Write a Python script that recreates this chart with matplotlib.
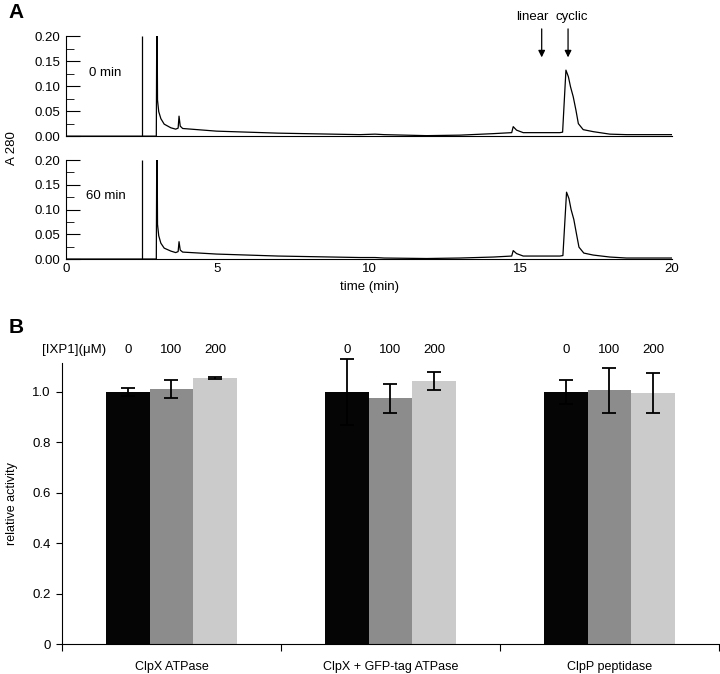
import numpy as np
import matplotlib
matplotlib.use("Agg")
import matplotlib.pyplot as plt
from matplotlib.ticker import MultipleLocator

plt.rcParams['font.family'] = ['Liberation Sans', 'DejaVu Sans']

# panel A: HPLC traces (time in min, A280)
inject_time = 2.5
t_0min = [0.0, 2.98, 3.0, 3.02, 3.06, 3.13, 3.24, 3.46, 3.62, 3.7, 3.73, 3.77, 3.85,
          4.97, 7.0, 9.7, 10.2, 10.5, 11.9, 13.0, 14.1, 14.71, 14.76, 14.87, 15.09,
          16.3, 16.39, 16.5, 16.58, 16.65, 16.74, 16.83, 16.91, 17.07, 17.4, 17.95,
          18.5, 20.0]
a_0min = [0.0, 0.0, 0.3, 0.072, 0.049, 0.035, 0.024, 0.0167, 0.014, 0.016, 0.04, 0.02, 0.0153,
          0.010, 0.006, 0.003, 0.004, 0.003, 0.001, 0.002, 0.005, 0.007, 0.019, 0.012, 0.007,
          0.007, 0.008, 0.132, 0.119, 0.099, 0.079, 0.052, 0.025, 0.013, 0.009, 0.004,
          0.003, 0.003]
t_60min = [0.0, 2.98, 3.0, 3.02, 3.06, 3.13, 3.24, 3.46, 3.62, 3.7, 3.73, 3.77, 3.85,
           4.97, 7.0, 9.7, 10.2, 10.5, 11.9, 13.0, 14.1, 14.71, 14.76, 14.87, 15.09,
           16.3, 16.4, 16.52, 16.6, 16.67, 16.76, 16.85, 16.93, 17.09, 17.4, 17.95,
           18.5, 20.0]
a_60min = [0.0, 0.0, 0.3, 0.07, 0.047, 0.032, 0.022, 0.016, 0.013, 0.015, 0.035, 0.018, 0.014,
           0.010, 0.006, 0.003, 0.003, 0.002, 0.001, 0.002, 0.004, 0.006, 0.017, 0.011, 0.006,
           0.006, 0.007, 0.135, 0.122, 0.1, 0.08, 0.05, 0.024, 0.012, 0.008, 0.004,
           0.002, 0.002]
arrow_labels = ['linear', 'cyclic']
arrow_times = [15.7, 16.57]
text_times = [15.4, 16.7]

# panel B: relative activity
groups = ['ClpX ATPase', 'ClpX + GFP-tag ATPase', 'ClpP peptidase']
conc = ['0', '100', '200']
vals = [[1.0, 1.012, 1.056],
        [1.0, 0.975, 1.042],
        [1.0, 1.007, 0.995]]
errs = [[0.017, 0.035, 0.004],
        [0.13, 0.058, 0.036],
        [0.046, 0.09, 0.079]]
bar_colors = ['#050505', '#8c8c8c', '#cbcbcb']

fig = plt.figure(figsize=(7.2, 6.74), dpi=100)

def trace_axes(rect, t, a, label, show_x):
    ax = fig.add_axes(rect)
    ax.plot(t, a, color='black', lw=0.9)
    ax.vlines(inject_time, 0, 0.2, color='black', lw=0.9)
    ax.set_xlim(0, 20)
    ax.set_ylim(0, 0.2)
    ax.spines['top'].set_visible(False)
    ax.spines['right'].set_visible(False)
    ax.yaxis.set_minor_locator(MultipleLocator(0.025))
    ax.set_yticks([0, 0.05, 0.1, 0.15, 0.2])
    ax.set_yticklabels(['0.00', '0.05', '0.10', '0.15', '0.20'])
    ax.tick_params(axis='y', which='major', direction='in', length=10, labelsize=9.5, pad=4)
    ax.tick_params(axis='y', which='minor', direction='in', length=6)
    ax.set_xticks([0, 5, 10, 15, 20])
    if show_x:
        ax.tick_params(axis='x', length=0, labelsize=9.5, pad=3)
        ax.set_xlabel('time (min)', fontsize=9.5, labelpad=4)
    else:
        ax.tick_params(axis='x', length=0, labelbottom=False)
    ax.text(1.3, 0.127, label, ha='center', va='center', fontsize=9.5)
    return ax

axA1 = trace_axes([0.0917, 0.798, 0.8416, 0.1484], t_0min, a_0min, '0 min', False)
axA2 = trace_axes([0.0917, 0.6157, 0.8416, 0.1469], t_60min, a_60min, '60 min', True)

for lab, at, tt in zip(arrow_labels, arrow_times, text_times):
    axA1.annotate('', xy=(at, 0.152), xytext=(at, 0.22),
                  arrowprops=dict(arrowstyle='-|>', color='black', lw=0.9,
                                  mutation_scale=10), annotation_clip=False)
    axA1.text(tt, 0.238, lab, ha='center', va='center', fontsize=9.5, clip_on=False)

fig.text(0.017, 0.78, 'A 280', rotation=90, ha='center', va='center', fontsize=9.5)
fig.text(0.012, 0.982, 'A', fontsize=15, fontweight='bold', ha='left', va='center')
fig.text(0.012, 0.514, 'B', fontsize=15, fontweight='bold', ha='left', va='center')

# panel B
axB = fig.add_axes([0.0861, 0.0445, 0.9125, 0.4169])
w = 0.2
for i in range(3):
    x = np.arange(len(groups)) + (i - 1) * w
    v = [row[i] for row in vals]
    e = [row[i] for row in errs]
    axB.bar(x, v, width=w, color=bar_colors[i], edgecolor='none')
    axB.errorbar(x, v, yerr=e, fmt='none', ecolor='black', elinewidth=1.3,
                 capsize=5, capthick=1.3, clip_on=False)
    for xi in x:
        axB.text(xi, 1.167, conc[i], ha='center', va='center', fontsize=9.5, clip_on=False)
axB.text(-0.3, 1.167, '[IXP1](\u03bcM)', ha='right', va='center', fontsize=9.5, clip_on=False)

axB.set_xlim(-0.5, 2.5)
axB.set_ylim(0, 1.115)
axB.spines['top'].set_visible(False)
axB.spines['right'].set_visible(False)
axB.set_yticks([0, 0.2, 0.4, 0.6, 0.8, 1.0])
axB.set_yticklabels(['0', '0.2', '0.4', '0.6', '0.8', '1.0'])
axB.tick_params(axis='y', direction='out', length=4, labelsize=9.5, pad=4)
axB.set_xticks([-0.5, 0.5, 1.5, 2.5])
axB.set_xticklabels([])
axB.tick_params(axis='x', which='major', direction='out', length=5)
axB.set_xticks([0, 1, 2], minor=True)
axB.set_xticklabels(groups, minor=True)
axB.tick_params(axis='x', which='minor', length=0, labelsize=9, pad=12.5)
axB.set_ylabel('relative activity', fontsize=9, labelpad=10)

fig.savefig('out.png', dpi=100)
